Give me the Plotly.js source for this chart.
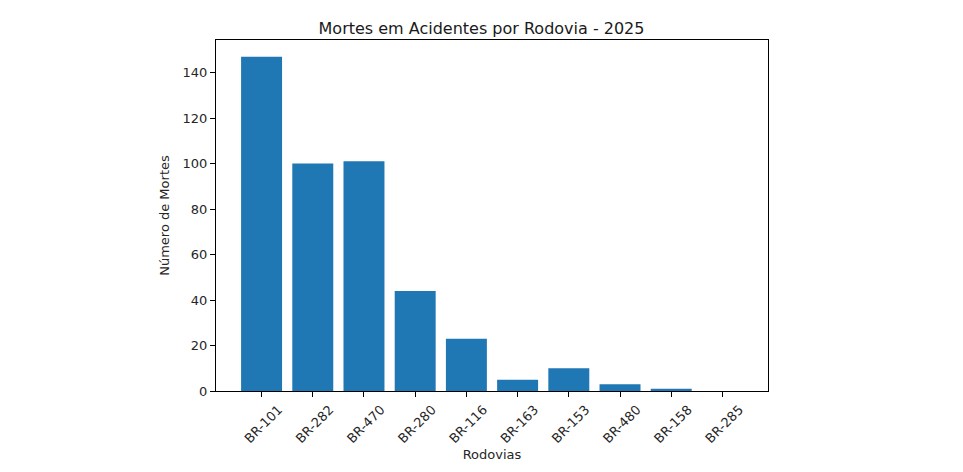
<!DOCTYPE html>
<html>
<head>
<meta charset="utf-8">
<script src="https://cdn.plot.ly/plotly-3.0.1.min.js"></script>
<style>html,body{margin:0;padding:0;background:#fff;}</style>
</head>
<body>
<div id="chart" style="width:963px;height:472px;"></div>
<script>
const rodovias = ["BR-101","BR-282","BR-470","BR-280","BR-116","BR-163","BR-153","BR-480","BR-158","BR-285"];
const mortes = [147, 100, 101, 44, 23, 5, 10, 3, 1, 0];
const yTicks = [0, 20, 40, 60, 80, 100, 120, 140];

const font = {family: "DejaVu Sans, sans-serif", color: "#262626", size: 13};

Plotly.newPlot("chart", [{
  type: "bar",
  x: rodovias,
  y: mortes,
  width: 0.8,
  marker: {color: "#1f77b4", line: {width: 0}},
  hoverinfo: "x+y"
}], {
  width: 963, height: 472,
  margin: {l: 216, r: 195, t: 40, b: 81},
  paper_bgcolor: "#fff", plot_bgcolor: "#fff",
  font: font,
  showlegend: false,
  title: {text: "Mortes em Acidentes por Rodovia - 2025", x: 0.5, xanchor: "center",
          y: 1, yref: "paper", yanchor: "bottom", pad: {b: 6},
          font: {family: font.family, size: 16, color: "#1a1a1a"}},
  xaxis: {
    type: "category",
    range: [-0.89, 9.89],
    tickangle: -45,
    ticklabelshift: 17,
    ticks: "outside", ticklen: 5, tickwidth: 1, tickcolor: "#000",
    showline: true, linecolor: "#000", linewidth: 1, mirror: true,
    showgrid: false, zeroline: false,
    tickfont: {size: 13},
    title: {text: "Rodovias", standoff: 4, font: {size: 13}}
  },
  yaxis: {
    range: [0, 154.35],
    tickvals: yTicks,
    ticks: "outside", ticklen: 5, tickwidth: 1, tickcolor: "#000",
    showline: true, linecolor: "#000", linewidth: 1, mirror: true,
    showgrid: false, zeroline: false,
    tickfont: {size: 13},
    title: {text: "Número de Mortes", standoff: 10, font: {size: 13}}
  }
}, {displayModeBar: false, staticPlot: true});
</script>
</body>
</html>
